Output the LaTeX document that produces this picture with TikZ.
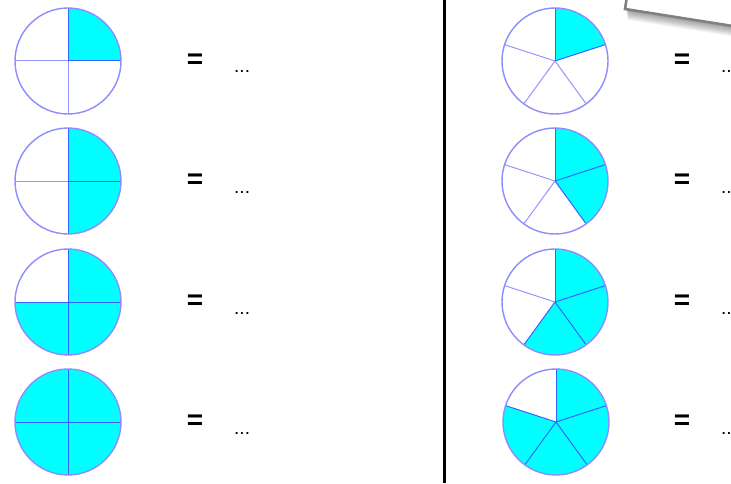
\documentclass[tikz,border=0pt]{standalone}
\usepackage{fontspec}
\setmainfont{Liberation Sans}
\definecolor{rim}{RGB}{140,140,255}
\definecolor{spokelight}{RGB}{150,150,250}
\definecolor{spokedark}{RGB}{50,100,255}
\definecolor{piefill}{RGB}{0,255,255}
\definecolor{boxline}{RGB}{128,128,128}
\newcommand\piechart[4]{%
  \foreach \i in {1,...,#4}{%
    \fill[piefill] (#1,#2) -- ++({90-(\i-1)*360/#3}:53)
      arc[start angle={90-(\i-1)*360/#3}, end angle={90-\i*360/#3}, radius=53] -- cycle;}
  \foreach \i in {1,...,#3}{%
    \def\spk{spokedark}%
    \ifnum\i>#4\relax\ifnum\i<#3\relax\def\spk{spokelight}\fi\fi
    \draw[\spk, line width=1] (#1,#2) -- ++({90-\i*360/#3}:53);}
  \draw[rim, line width=1.4] (#1,#2) circle[radius=53];
}
\tikzset{
  eqsign/.style={font=\fontsize{28}{28}\selectfont\bfseries, inner sep=0pt},
  dots/.style={font=\fontsize{19}{19}\selectfont, inner sep=0pt, anchor=base west},
}
\begin{document}
\begin{tikzpicture}[x=1pt,y=1pt]
\useasboundingbox (0,0) rectangle (731,483);
\fill[white] (0,0) rectangle (731,483);
\begin{scope}
  \clip (0,0) rectangle (731,483);
  \foreach \k in {1,...,10}{
    \fill[black, opacity=0.045] (625+0.3*\k,474-1.1*\k) -- (822.6+0.3*\k,442.8-1.1*\k) -- (838.2,541.6) -- (640.6,572.8) -- cycle;
  }
  \fill[white, draw=boxline, line width=2.6]
    (625,474) -- (822.6,442.8) -- (838.2,541.6) -- (640.6,572.8) -- cycle;
\end{scope}
% divider
\draw[line width=3] (444,0) -- (444,483);
% left column (quarters)
\piechart{68}{422}{4}{1}
\piechart{68}{302}{4}{2}
\piechart{68}{181}{4}{3}
\piechart{68}{61}{4}{4}
% right column (fifths)
\piechart{555}{422}{5}{1}
\piechart{555}{302}{5}{2}
\piechart{555}{181}{5}{3}
\piechart{556}{61}{5}{4}
% equals and dots
\foreach \y/\n in {422/a,302/b,181/c,61/d}{
  \node[eqsign] (eqL\n) at (195,\y) {=};
  \node[dots] (dotsL\n) at (234,\y-12) {...};
  \node[eqsign] (eqR\n) at (682,\y) {=};
  \node[dots] (dotsR\n) at (721,\y-12) {...};
}
\end{tikzpicture}
\end{document}
